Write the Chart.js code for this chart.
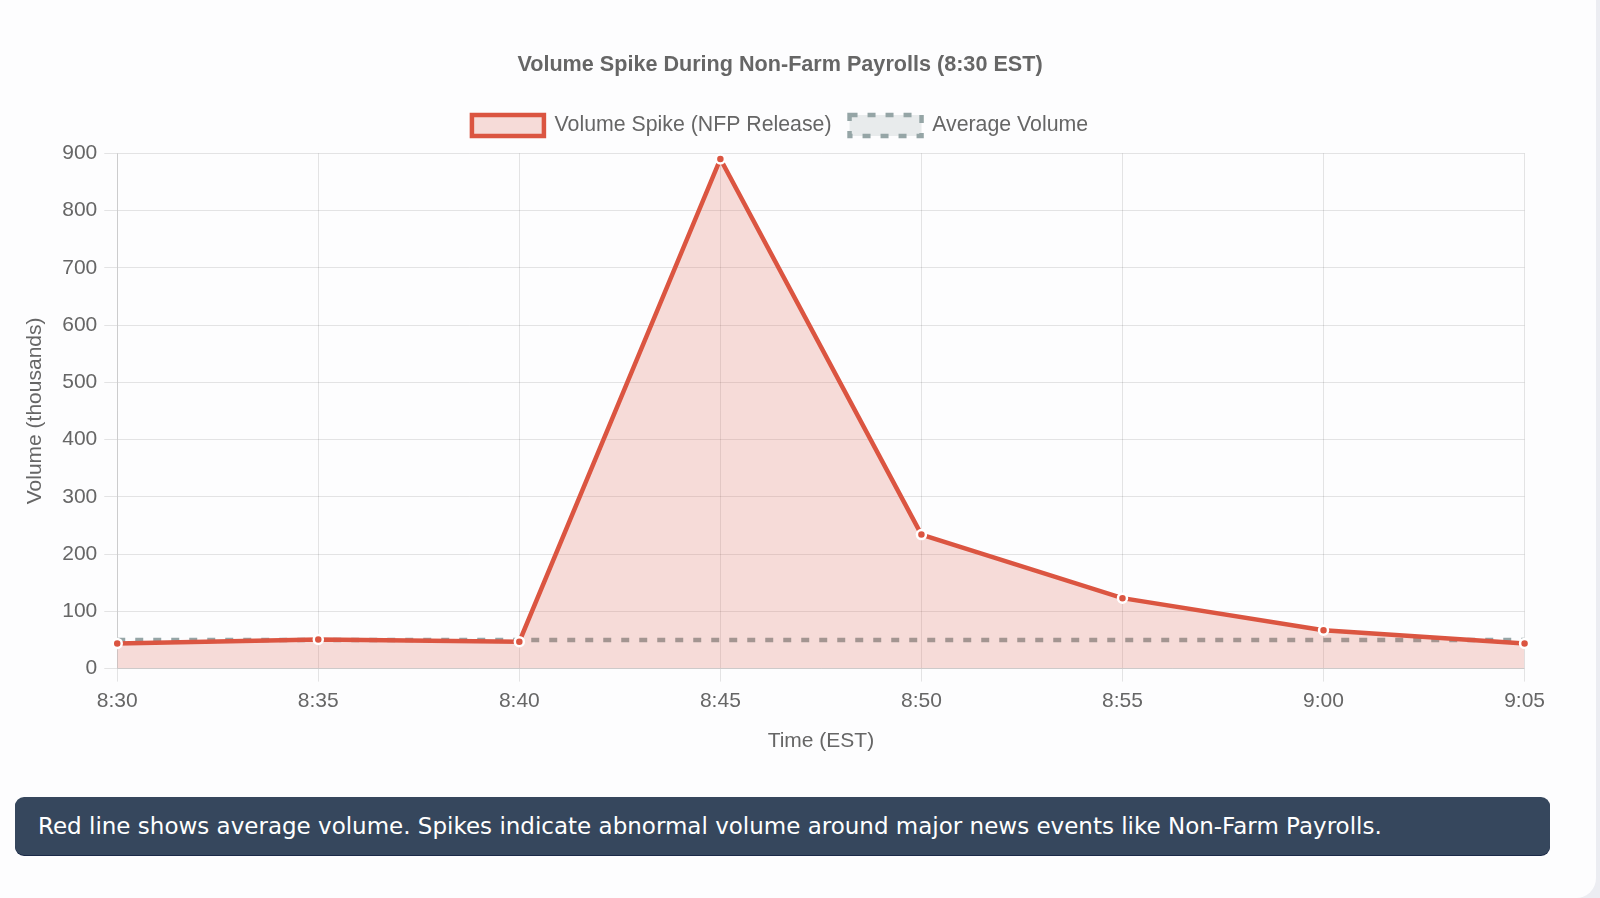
<!DOCTYPE html>
<html>
<head>
<meta charset="utf-8">
<title>Volume Spike During Non-Farm Payrolls</title>
<script src="https://cdn.jsdelivr.net/npm/chart.js@4.4.1/dist/chart.umd.min.js"></script>
<style>
    html, body {
        margin: 0;
        padding: 0;
        width: 1600px;
        height: 898px;
        overflow: hidden;
        background: #ecedf2;
    }
    .card {
        position: absolute;
        left: -20px;
        top: -20px;
        width: 1616px;
        height: 918px;
        background: #fdfdfe;
        border-radius: 20px;
    }
    .chart-box {
        position: absolute;
        left: 8px;
        top: 38px;
        width: 1544px;
        height: 731px;
    }
    .note {
        position: absolute;
        left: 15px;
        top: 797px;
        width: 1535px;
        height: 58px;
        box-sizing: border-box;
        padding-left: 23px;
        display: flex;
        align-items: center;
        background: #36475d;
        border-radius: 9px;
        box-shadow: 0 1px 0 #1b2a48;
        color: #ffffff;
        font-family: Tahoma, Verdana, "DejaVu Sans", sans-serif;
        font-size: 23px;
    }
</style>
</head>
<body>
<div class="card"></div>
<div class="chart-box"><canvas id="chartjs"></canvas></div>
<div class="note">Red line shows average volume. Spikes indicate abnormal volume around major news events like Non-Farm Payrolls.</div>

<script>
/*==== data ====*/
const timeLabels = ['8:30', '8:35', '8:40', '8:45', '8:50', '8:55', '9:00', '9:05'];
const spikeVolume = [44, 51, 47, 890, 234, 123, 67, 44];
const averageVolume = [50, 50, 50, 50, 50, 50, 50, 50];

const spikeLabel = 'Volume Spike (NFP Release)';
const averageLabel = 'Average Volume';

/*==== colors ====*/
const redLine = '#db5541';
const redFill = 'rgba(219, 85, 65, 0.2)';
const grayLine = '#95a5a6';
const grayFill = 'rgba(149, 165, 166, 0.2)';

Chart.defaults.font.family = "'Liberation Sans', Arial, Helvetica, sans-serif";
Chart.defaults.font.size = 21;
Chart.defaults.color = '#666';

// a bit more room under the legend
const legendMargin = {
    id: 'legendMargin',
    beforeInit(chart) {
        const fit = chart.legend.fit;
        chart.legend.fit = function () {
            fit.bind(chart.legend)();
            this.height += 7;
        };
    }
};

/*==== config ====*/
var config_volume = {
    type: 'line',
    data: {
        labels: timeLabels,
        datasets: [
            {
                label: spikeLabel,
                data: spikeVolume,
                borderColor: redLine,
                backgroundColor: redFill,
                borderWidth: 4.5,
                fill: 'origin',
                tension: 0,
                pointRadius: 4.5,
                pointBackgroundColor: redLine,
                pointBorderColor: '#ffffff',
                pointBorderWidth: 2.5
            },
            {
                label: averageLabel,
                data: averageVolume,
                borderColor: grayLine,
                backgroundColor: grayFill,
                borderWidth: 4.5,
                borderDash: [8, 10],
                fill: false,
                pointRadius: 0
            }
        ]
    },
    options: {
        responsive: true,
        maintainAspectRatio: false,
        animation: false,
        plugins: {
            title: {
                display: true,
                text: 'Volume Spike During Non-Farm Payrolls (8:30 EST)',
                font: { size: 21.6, weight: 'bold' },
                padding: { top: 14, bottom: 19 }
            },
            legend: {
                labels: {
                    boxWidth: 72,
                    boxHeight: 21,
                    padding: 18,
                    font: { size: 21.3 }
                }
            },
            tooltip: { enabled: false }
        },
        scales: {
            x: {
                grid: { tickLength: 13 },
                ticks: { padding: 7, maxRotation: 0 },
                title: {
                    display: true,
                    text: 'Time (EST)',
                    padding: { top: 8, bottom: 15 }
                }
            },
            y: {
                min: 0,
                max: 900,
                grid: { tickLength: 13 },
                ticks: { stepSize: 100, padding: 7 },
                title: {
                    display: true,
                    text: 'Volume (thousands)',
                    padding: { top: 15, bottom: 7 }
                }
            }
        }
    },
    plugins: [legendMargin]
};

var volumeChart = new Chart(document.querySelector('#chartjs'), config_volume);
</script>
</body>
</html>
